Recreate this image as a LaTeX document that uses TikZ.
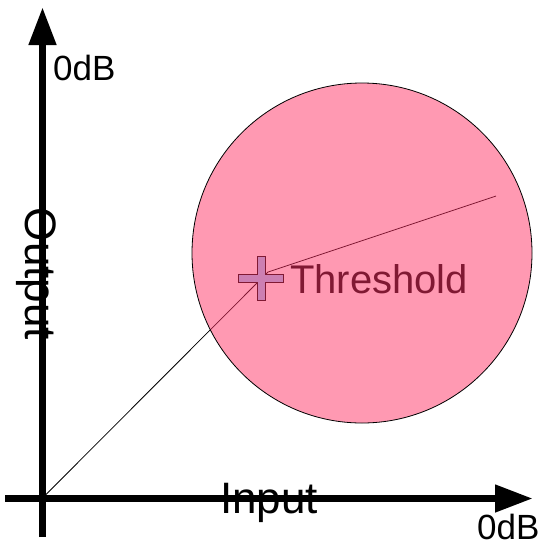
\documentclass[tikz,border=0pt]{standalone}
\usepackage{fontspec}
\setmainfont{Liberation Sans}
\usepackage{xcolor}
\usetikzlibrary{arrows.meta,positioning}
\definecolor{zonered}{RGB}{255,51,102}
\definecolor{plusblue}{RGB}{153,204,255}

\begin{document}
\begin{tikzpicture}[
  x=1pt,y=-1pt,
  axis/.style={line width=7.5pt,-{Triangle[length=38pt,width=26pt]}},
  curve/.style={line width=0.8pt},
  lbl/.style={inner sep=0pt,anchor=base},
  zone/.style={draw,circle,line width=0.8pt,fill=zonered,fill opacity=0.5,draw opacity=1,minimum size=340pt,inner sep=0pt}
]
\useasboundingbox (0,0) rectangle (545,544);
% axes
\coordinate (ybot) at (42.5,537);
\coordinate (ytop) at (42.5,7);
\coordinate (xleft) at (5,498.5);
\coordinate (xright) at (533,498.5);
\draw[axis] (ybot) -- (ytop);
\draw[axis] (xleft) -- (xright);
\node[lbl,font=\fontsize{44}{44}\selectfont] (input) at (269,513) {Input};
\node[lbl,rotate=-90,font=\fontsize{44}{44}\selectfont] (output) at (25,274) {Output};
\node[lbl,anchor=base west,font=\fontsize{35}{35}\selectfont] (ymax) at (53,80) {0dB};
\node[lbl,anchor=base west,font=\fontsize{35}{35}\selectfont] (xmax) at (477,539) {0dB};
% transfer curve
\coordinate (origin) at (42.5,498);
\coordinate (knee) at (268,272);
\coordinate (tail) at (496,196);
\draw[curve] (origin) -- (knee) -- (tail);
% threshold marker
\draw[fill=plusblue,line width=0.8pt] (257,256) -- (265,256) -- (265,274) -- (283,274) -- (283,282)
  -- (265,282) -- (265,300) -- (257,300) -- (257,282) -- (238,282) -- (238,274) -- (257,274) -- cycle;
\node[lbl,anchor=base west,font=\fontsize{40}{40}\selectfont] (thresh) at (290,293) {Threshold};
\node[zone] (region) at (362,253) {};
\end{tikzpicture}
\end{document}
